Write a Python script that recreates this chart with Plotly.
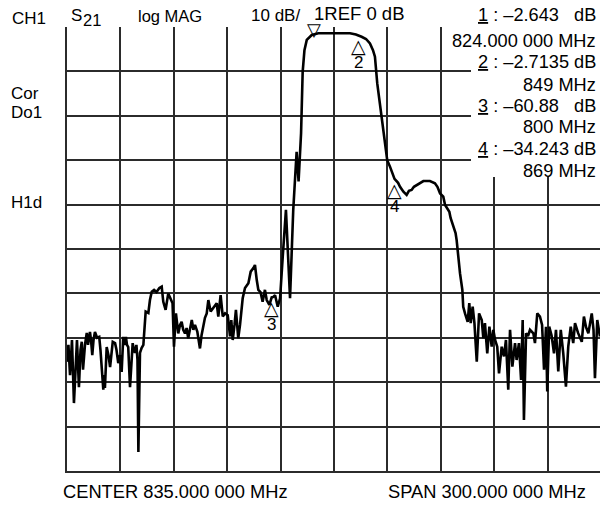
import plotly.graph_objects as go

# ---------------- data ----------------
freq_mhz = [
    685.0, 685.8, 686.7, 687.8, 688.9, 689.8, 690.6, 691.7, 692.6, 693.3,
    694.0, 695.1, 696.1, 696.8, 697.9, 698.5, 699.2, 699.9, 700.7, 701.9,
    703.1, 703.8, 704.5, 705.4, 705.8, 706.3, 707.3, 708.3, 709.2, 710.0,
    710.7, 712.0, 712.8, 713.8, 714.8, 715.7, 716.6, 717.3, 718.1, 718.7,
    719.4, 720.4, 721.2, 721.9, 722.6, 723.2, 724.0, 724.6, 725.1, 725.6,
    726.0, 726.9, 727.9, 729.2, 730.7, 731.6, 732.6, 733.9, 735.3, 736.9,
    738.2, 739.1, 740.4, 741.9, 743.3, 744.3, 745.1, 746.2, 747.5, 748.5,
    749.4, 750.3, 751.3, 752.2, 753.1, 754.1, 755.1, 756.0, 756.9, 758.2,
    759.7, 760.6, 761.6, 762.5, 763.5, 764.4, 765.7, 767.2, 768.1, 769.1,
    770.0, 771.3, 772.5, 773.8, 775.3, 776.6, 777.3, 778.1, 779.1, 779.9,
    781.2, 782.2, 783.7, 785.0, 786.9, 788.2, 789.7, 790.6, 791.6, 792.5,
    793.7, 794.9, 796.2, 797.2, 798.7, 800.0, 800.9, 801.9, 803.4, 804.7,
    806.2, 808.0, 810.3, 812.1, 814.0, 815.1, 816.5, 817.4, 818.4, 819.7,
    822.5, 824.0, 826.2, 829.9, 834.6, 839.5, 844.0, 847.3, 849.0, 850.5,
    853.0, 855.2, 856.9, 858.0, 859.3, 861.8, 863.7, 864.9, 866.5, 869.0,
    871.0, 872.1, 874.0, 875.8, 877.1, 878.6, 879.9, 881.8, 883.3, 885.2,
    886.7, 888.9, 891.7, 893.1, 894.6, 896.4, 897.4, 899.8, 900.5, 901.1,
    902.4, 903.3, 903.9, 904.8, 905.8, 907.1, 907.6, 908.6, 910.1, 911.0,
    911.8, 912.9, 913.9, 915.2, 916.5, 918.0, 918.9, 919.8, 921.1, 922.3,
    923.6, 924.5, 925.5, 926.7, 927.7, 929.2, 930.5, 931.6, 932.9, 933.9,
    935.2, 936.7, 937.6, 938.9, 940.1, 941.0, 941.7, 942.9, 944.0, 945.1,
    947.0, 947.9, 949.2, 950.7, 951.9, 953.0, 954.1, 954.8, 955.9, 957.2,
    958.6, 959.7, 961.0, 962.4, 963.8, 965.3, 966.6, 968.0, 969.4, 970.4,
    972.1, 974.2, 975.4, 976.6, 977.9, 979.8, 980.8, 981.6, 982.9, 984.4,
]
s21_db = [
    -75.4, -71.6, -78.4, -70.5, -84.7, -75.0, -70.5, -81.1, -72.7, -70.9,
    -77.2, -71.6, -68.9, -71.6, -68.7, -70.5, -73.9, -70.5, -68.7, -70.0,
    -69.8, -72.7, -77.2, -81.7, -78.4, -81.3, -72.1, -73.9, -76.6, -72.7,
    -70.9, -71.2, -72.7, -75.7, -73.9, -77.7, -69.8, -71.6, -69.8, -71.6,
    -72.1, -81.1, -75.0, -71.2, -72.7, -73.4, -71.6, -75.0, -95.7, -77.2,
    -73.4, -72.3, -71.6, -64.1, -64.4, -61.5, -59.6, -59.2, -59.7, -58.8,
    -58.5, -61.9, -63.7, -60.0, -61.5, -62.2, -72.0, -64.5, -69.0, -67.1,
    -66.4, -68.2, -69.0, -67.8, -70.1, -68.2, -66.0, -68.2, -67.1, -68.6,
    -72.4, -69.4, -67.5, -65.5, -64.5, -61.5, -64.1, -63.3, -62.8, -62.2,
    -65.2, -60.4, -65.2, -64.5, -64.9, -69.7, -66.0, -70.5, -67.1, -63.7,
    -70.1, -67.1, -61.1, -58.8, -57.7, -55.1, -54.3, -53.6, -57.0, -59.2,
    -59.7, -61.9, -59.2, -61.5, -62.6, -60.9, -60.8, -60.4, -63.0, -61.1,
    -51.7, -41.2, -61.1, -41.2, -28.1, -34.8, -23.9, -10.1, -5.2, -2.9,
    -1.8, -1.6, -1.4, -1.4, -1.4, -1.5, -1.4, -1.7, -1.9, -2.2,
    -2.7, -3.7, -5.2, -6.7, -12.7, -20.2, -25.4, -30.0, -31.5, -34.2,
    -35.1, -36.0, -37.1, -37.8, -36.9, -36.7, -36.0, -35.6, -35.2, -34.7,
    -34.7, -34.7, -35.2, -36.0, -37.5, -38.2, -40.1, -41.6, -43.0, -43.8,
    -45.7, -46.4, -48.0, -51.7, -55.5, -59.2, -63.0, -64.5, -66.4, -62.2,
    -66.7, -63.0, -66.7, -75.4, -64.5, -66.0, -70.1, -66.7, -73.5, -67.5,
    -72.0, -68.2, -70.5, -72.0, -78.0, -72.0, -74.2, -70.5, -81.7, -68.2,
    -76.5, -71.2, -75.0, -71.2, -79.5, -66.0, -88.5, -69.0, -69.6, -68.2,
    -69.0, -71.2, -64.5, -65.2, -67.1, -77.2, -67.5, -82.1, -67.5, -69.4,
    -73.5, -68.2, -77.6, -68.2, -73.5, -81.0, -72.0, -67.5, -71.2, -66.7,
    -68.9, -70.9, -65.2, -67.6, -69.0, -64.5, -68.2, -79.1, -66.0, -69.7,
]

# markers: number, frequency (MHz), level drawn on the trace (dB), readout texts
marker_no = ["1", "2", "3", "4"]
marker_freq = [824.0, 849.0, 800.0, 869.0]
marker_level = [-1.6, -1.9, -60.9, -34.2]
marker_readout_db = ["\u20132.643\u00a0\u00a0\u00a0dB", "\u20132.7135\u00a0dB",
                     "\u201360.88\u00a0\u00a0\u00a0dB", "\u201334.243\u00a0dB"]
marker_readout_freq = ["824.000\u00a0000\u00a0MHz", "849\u00a0MHz", "800\u00a0MHz", "869\u00a0MHz"]

center_label = "CENTER 835.000 000 MHz"
span_label = "SPAN 300.000 000 MHz"
f_start, f_div = 685.0, 30.0
ref_db, db_div = 0.0, 10.0

# ---------------- layout helpers ----------------
W, H = 600, 506
L, R, T, B = 67, 0, 27, 35
PW, PH = W - L - R, H - T - B
FONT = "Liberation Sans, Arial, sans-serif"


def pxx(p):
    return (p - L) / PW


def pxy(p):
    return (H - B - p) / PH


fig = go.Figure()
fig.add_trace(go.Scatter(x=freq_mhz, y=s21_db, mode="lines",
                         line=dict(color="black", width=2.6),
                         hoverinfo="skip", showlegend=False))

annotations = []


def txt(text, xp, yp, xanchor="left", size=17, bg=None, family=FONT):
    d = dict(text=text, x=pxx(xp), y=pxy(yp), xref="paper", yref="paper",
             xanchor=xanchor, yanchor="middle", showarrow=False,
             font=dict(family=family, size=size, color="black"))
    if bg:
        d["bgcolor"] = bg
    annotations.append(d)


# header
txt("CH1", 10, 18)
txt("S", 69, 16)
txt("21", 81, 20, size=16.5)
txt("log MAG", 136, 16, size=16.5)
txt("10 dB/", 249, 16)
txt("1REF 0 dB", 312, 14, size=18.5)
# left status
txt("Cor", 9, 93)
txt("Do1", 9, 112)
txt("H1d", 9, 203)
# bottom
txt(center_label, 61, 491, size=18.3)
txt(span_label, 588, 491, xanchor="right", size=18.3)

# marker readouts (right block)
ys = [15, 41, 62, 85, 105.5, 127.5, 149, 171]
for i in range(4):
    txt("<u>%s</u>\u00a0:\u00a0%s" % (marker_no[i], marker_readout_db[i]), 598, ys[2 * i],
        xanchor="right", size=18.2)
    txt(marker_readout_freq[i], 598, ys[2 * i + 1], xanchor="right", size=18.2)

# marker symbols on the trace
for i in range(4):
    if i == 0:
        annotations.append(dict(x=marker_freq[i], y=marker_level[i], xref="x", yref="y",
                                text="\u25bd", showarrow=False, xanchor="center", yanchor="bottom",
                                yshift=-8, font=dict(family="DejaVu Sans", size=18, color="black")))
    else:
        annotations.append(dict(x=marker_freq[i], y=marker_level[i], xref="x", yref="y",
                                text="\u25b3", showarrow=False, xanchor="center", yanchor="top",
                                yshift=2, font=dict(family="DejaVu Sans", size=19, color="black")))
        annotations.append(dict(x=marker_freq[i], y=marker_level[i], xref="x", yref="y",
                                text=marker_no[i], showarrow=False, xanchor="center", yanchor="top",
                                yshift=-16, font=dict(family=FONT, size=17, color="black")))

GRID = "#2b2b2b"
shapes = [
    # white panel behind the marker readouts
    dict(type="rect", xref="paper", yref="paper", x0=pxx(471), x1=1.0, y0=pxy(177), y1=pxy(24),
         fillcolor="white", line=dict(width=0), layer="above"),
    dict(type="rect", xref="paper", yref="paper", x0=pxx(443), x1=1.0, y0=pxy(52), y1=pxy(24),
         fillcolor="white", line=dict(width=0), layer="above"),
]

fig.update_layout(
    width=W, height=H,
    margin=dict(l=L, r=R, t=T, b=B, pad=0),
    paper_bgcolor="white", plot_bgcolor="white",
    showlegend=False,
    annotations=annotations,
    shapes=shapes,
    xaxis=dict(range=[f_start, f_start + 10 * f_div * PW / 534.0], tick0=f_start, dtick=f_div,
               showgrid=True, gridcolor=GRID, gridwidth=1.6, showticklabels=False, ticks="",
               zeroline=False, showline=True, linecolor=GRID, linewidth=1.6, mirror=False,
               fixedrange=True),
    yaxis=dict(range=[ref_db - 10 * db_div, ref_db], tick0=ref_db, dtick=db_div,
               showgrid=True, gridcolor=GRID, gridwidth=1.6, showticklabels=False, ticks="",
               zeroline=False, showline=True, linecolor=GRID, linewidth=1.6, mirror=False,
               fixedrange=True),
)

fig.write_html("out.html", config={"displayModeBar": False},
               post_script="document.body.style.margin='0';document.body.style.overflow='hidden';")
